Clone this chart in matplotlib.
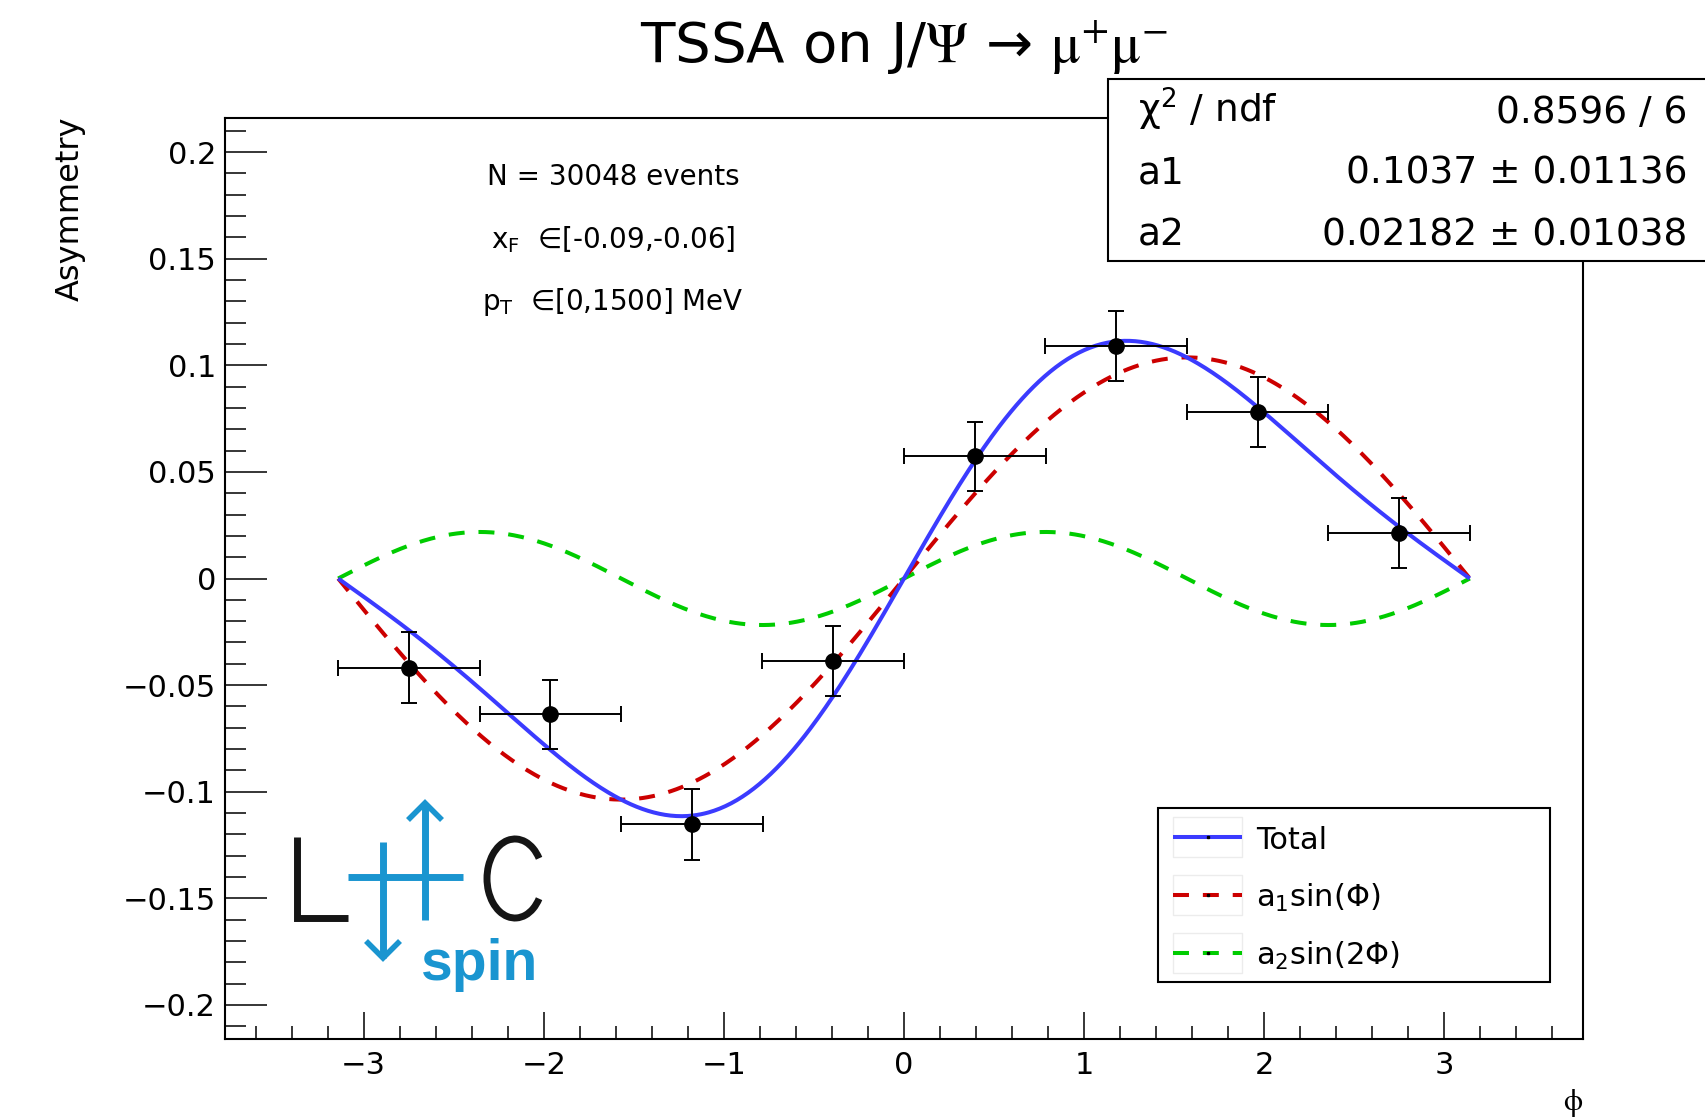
import numpy as np
import matplotlib
matplotlib.use("Agg")
import matplotlib.pyplot as plt
from matplotlib.patches import Rectangle, Arc
from matplotlib.ticker import MultipleLocator, FuncFormatter

plt.rcParams['font.family'] = ['DejaVu Sans']
plt.rcParams['lines.scale_dashes'] = False

# ---- measured asymmetry per phi bin ----
phi_centers = [-2.749, -1.963, -1.178, -0.393, 0.393, 1.178, 1.963, 2.749]
phi_halfwidth = [0.3927, 0.3927, 0.3927, 0.3927, 0.3927, 0.3927, 0.3927, 0.3927]
asym = [-0.0418, -0.0636, -0.1153, -0.0387, 0.0573, 0.1092, 0.0781, 0.0214]
asym_err = [0.0165, 0.0162, 0.0166, 0.0162, 0.0163, 0.0165, 0.0165, 0.0163]

# ---- fit result: A(phi) = a1 sin(phi) + a2 sin(2 phi) ----
a1, a1_err = 0.1037, 0.01136
a2, a2_err = 0.02182, 0.01038
chi2, ndf = 0.8596, 6
n_events = 30048

BLUE = '#3b3bff'
RED = '#cc0000'
GREEN = '#00cc00'
LOGO_BLUE = '#1a95d0'

W, H = 1705, 1118
fig = plt.figure(figsize=(W / 100, H / 100), dpi=100)
fig.patch.set_facecolor('white')

# main frame (pixel box: x 225..1583, y 118..1039)
ax = fig.add_axes([225 / W, 1 - 1039 / H, (1583 - 225) / W, (1039 - 118) / H])
ax.set_xlim(-1.2 * np.pi, 1.2 * np.pi)
ax.set_ylim(-0.216, 0.216)

phi = np.linspace(-np.pi, np.pi, 600)
term1 = a1 * np.sin(phi)
term2 = a2 * np.sin(2 * phi)
total = term1 + term2

style_total = dict(color=BLUE, lw=2.9, solid_capstyle='butt')
style_a1 = dict(color=RED, lw=2.9, dashes=(11.5, 10))
style_a2 = dict(color=GREEN, lw=2.9, dashes=(11.5, 10))

ax.plot(phi, term2, zorder=2, **style_a2)
ax.plot(phi, term1, zorder=2.1, **style_a1)
ax.plot(phi, total, zorder=2.2, **style_total)

ax.errorbar(phi_centers, asym, xerr=phi_halfwidth, yerr=asym_err, fmt='o',
            color='black', ms=11, elinewidth=1.4, capsize=6, capthick=1.4,
            zorder=3)

for s in ['top', 'right', 'left', 'bottom']:
    ax.spines[s].set_linewidth(1.5)

ax.xaxis.set_major_locator(MultipleLocator(1))
ax.xaxis.set_minor_locator(MultipleLocator(0.2))
ax.yaxis.set_major_locator(MultipleLocator(0.05))
ax.yaxis.set_minor_locator(MultipleLocator(0.01))


def fmt(v, _pos):
    v = round(v, 4) + 0.0
    return f"{v:g}".replace('-', '\u2212')


ax.xaxis.set_major_formatter(FuncFormatter(fmt))
ax.yaxis.set_major_formatter(FuncFormatter(fmt))
ax.tick_params(axis='x', which='major', direction='in', length=19.5, width=1.1,
               pad=9, labelsize=22, top=False)
ax.tick_params(axis='x', which='minor', direction='in', length=9.5, width=1.1, top=False)
ax.tick_params(axis='y', which='major', direction='in', length=30, width=1.1,
               pad=6.5, labelsize=22, right=False)
ax.tick_params(axis='y', which='minor', direction='in', length=15, width=1.1, right=False)

# ---- overlay in pixel coordinates for labels, boxes and logo ----
ov = fig.add_axes([0, 0, 1, 1], zorder=5)
ov.set_xlim(0, W)
ov.set_ylim(H, 0)
ov.axis('off')
ov.patch.set_alpha(0)

ov.text(904, 63, "TSSA on J/$\\Psi$ \u2192 $\\mathrm{\\mu}^{+}\\mathrm{\\mu}^{-}$",
        ha='center', va='baseline', fontsize=40.5, math_fontfamily='stix')
ov.text(70, 116, "Asymmetry", rotation=90, ha='center', va='top', fontsize=23)
ov.text(1573, 1103, r"$\mathrm{\phi}$", ha='center', va='center', fontsize=22,
        math_fontfamily='stix')

# selection annotations
ov.text(613, 185, f"N = {n_events} events", ha='center', va='baseline', fontsize=20)
ov.text(613, 248, "x$_{\\mathrm{F}}$  \u2208[-0.09,-0.06]", ha='center', va='baseline', fontsize=20)
ov.text(613, 310, "p$_{\\mathrm{T}}$  \u2208[0,1500] MeV", ha='center', va='baseline', fontsize=20)

# fit statistics box
ov.add_patch(Rectangle((1108, 79), 700, 182, facecolor='white', edgecolor='black', lw=1.5))
stat_rows = [
    (r"$\mathrm{\chi}^{2}$ / ndf", f"{chi2:.4g} / {ndf}"),
    ("a1", f"{a1:.4g} \u00b1 {a1_err:.4g}"),
    ("a2", f"{a2:.4g} \u00b1 {a2_err:.4g}"),
]
for i, (lab, val) in enumerate(stat_rows):
    yb = 123 + i * 61
    ov.text(1138, yb, lab, ha='left', va='baseline', fontsize=27)
    ov.text(1687, yb, val, ha='right', va='baseline', fontsize=27)

# legend
ov.add_patch(Rectangle((1158, 808), 392, 174, facecolor='white', edgecolor='black', lw=1.5))
leg_entries = [
    ("Total", style_total),
    (r"a$_{1}$sin($\Phi$)", style_a1),
    (r"a$_{2}$sin(2$\Phi$)", style_a2),
]
for i, (lab, st) in enumerate(leg_entries):
    yc = 837 + i * 58
    ov.add_patch(Rectangle((1173, yc - 20), 69, 40, facecolor='none',
                           edgecolor='#ececec', lw=1))
    ov.plot([1173, 1242], [yc, yc], **st)
    ov.plot([1207.5], [yc], marker='s', ms=1.5, color='black')
    ov.text(1256, yc + 12, lab, ha='left', va='baseline', fontsize=22)

# LHCspin logo
dark = '#151515'
ov.plot([297, 297, 348], [837, 918, 918], color=dark, lw=5,
        solid_joinstyle='miter', solid_capstyle='butt')
ov.add_patch(Arc((515, 878.5), 56, 79, theta1=40, theta2=320, color=dark, lw=5))
ov.plot([348, 463], [877, 877], color=LOGO_BLUE, lw=5, solid_capstyle='butt')
ov.plot([383, 383], [842, 958], color=LOGO_BLUE, lw=5, solid_capstyle='butt')
ov.plot([366, 383, 400], [941, 958, 941], color=LOGO_BLUE, lw=4,
        solid_joinstyle='miter', solid_capstyle='butt')
ov.plot([425, 425], [920, 803], color=LOGO_BLUE, lw=5, solid_capstyle='butt')
ov.plot([408, 425, 442], [820, 803, 820], color=LOGO_BLUE, lw=4,
        solid_joinstyle='miter', solid_capstyle='butt')
ov.text(421, 980, "spin", ha='left', va='baseline', fontsize=41, fontweight='bold',
        color=LOGO_BLUE, family='Liberation Sans')

fig.savefig("out.png", dpi=100)
